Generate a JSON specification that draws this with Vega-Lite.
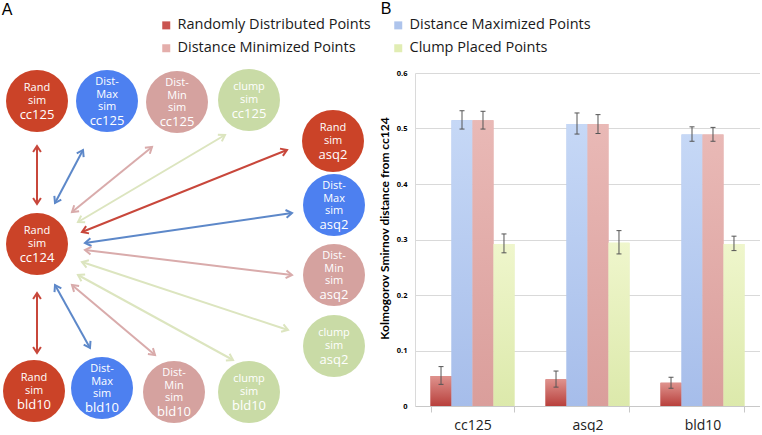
{
  "$schema": "https://vega.github.io/schema/vega-lite/v6.json",
  "padding": {"left": 0, "top": 1, "right": 0, "bottom": 0},
  "background": "white",
  "bounds": "flush",
  "spacing": 35,
  "config": {"view": {"stroke": null}, "font": "Open Sans"},
  "resolve": {"scale": {"color": "independent"}},
  "datasets": {
    "nodes": [
      {"kind": "Rand", "x": 37, "y": 101, "top": "Rand\nsim", "bottom": "cc125"},
      {"kind": "DistMax", "x": 107, "y": 101, "top": "Dist-\nMax\nsim", "bottom": "cc125"},
      {"kind": "DistMin", "x": 177, "y": 102, "top": "Dist-\nMin\nsim", "bottom": "cc125"},
      {"kind": "clump", "x": 249, "y": 100, "top": "clump\nsim", "bottom": "cc125"},
      {"kind": "Rand", "x": 333, "y": 141, "top": "Rand\nsim", "bottom": "asq2"},
      {"kind": "DistMax", "x": 334, "y": 205, "top": "Dist-\nMax\nsim", "bottom": "asq2"},
      {"kind": "DistMin", "x": 334, "y": 275, "top": "Dist-\nMin\nsim", "bottom": "asq2"},
      {"kind": "clump", "x": 334, "y": 346, "top": "clump\nsim", "bottom": "asq2"},
      {"kind": "Rand", "x": 37, "y": 244, "top": "Rand\nsim", "bottom": "cc124"},
      {"kind": "Rand", "x": 34, "y": 391, "top": "Rand\nsim", "bottom": "bld10"},
      {"kind": "DistMax", "x": 102, "y": 388, "top": "Dist-\nMax\nsim", "bottom": "bld10"},
      {"kind": "DistMin", "x": 174, "y": 392, "top": "Dist-\nMin\nsim", "bottom": "bld10"},
      {"kind": "clump", "x": 249, "y": 392, "top": "clump\nsim", "bottom": "bld10"}
    ],
    "edges": [
      {"kind": "Rand", "x": 37, "y": 146, "x2": 37, "y2": 204},
      {"kind": "DistMax", "x": 83, "y": 150, "x2": 55, "y2": 203},
      {"kind": "DistMin", "x": 152, "y": 147, "x2": 72, "y2": 212},
      {"kind": "clump", "x": 225, "y": 135, "x2": 78, "y2": 222},
      {"kind": "Rand", "x": 287, "y": 150, "x2": 82, "y2": 232},
      {"kind": "DistMax", "x": 292, "y": 213, "x2": 85, "y2": 243},
      {"kind": "DistMin", "x": 292, "y": 275, "x2": 85, "y2": 250},
      {"kind": "clump", "x": 288, "y": 330, "x2": 82, "y2": 262},
      {"kind": "Rand", "x": 37, "y": 353, "x2": 37, "y2": 293},
      {"kind": "DistMax", "x": 90, "y": 348, "x2": 55, "y2": 285},
      {"kind": "DistMin", "x": 155, "y": 355, "x2": 72, "y2": 285},
      {"kind": "clump", "x": 233, "y": 360, "x2": 78, "y2": 275}
    ],
    "letters": [
      {"label": "A", "x": 7, "y": 10},
      {"label": "B", "x": 386, "y": 9}
    ],
    "ks": [
      {"site": "cc125", "method": "Randomly Distributed Points", "value": 0.054, "lo": 0.039, "hi": 0.071},
      {"site": "cc125", "method": "Distance Maximized Points", "value": 0.515, "lo": 0.499, "hi": 0.532},
      {"site": "cc125", "method": "Distance Minimized Points", "value": 0.515, "lo": 0.499, "hi": 0.531},
      {"site": "cc125", "method": "Clump Placed Points", "value": 0.292, "lo": 0.276, "hi": 0.310},
      {"site": "asq2", "method": "Randomly Distributed Points", "value": 0.048, "lo": 0.034, "hi": 0.063},
      {"site": "asq2", "method": "Distance Maximized Points", "value": 0.508, "lo": 0.490, "hi": 0.528},
      {"site": "asq2", "method": "Distance Minimized Points", "value": 0.508, "lo": 0.491, "hi": 0.525},
      {"site": "asq2", "method": "Clump Placed Points", "value": 0.294, "lo": 0.274, "hi": 0.316},
      {"site": "bld10", "method": "Randomly Distributed Points", "value": 0.042, "lo": 0.032, "hi": 0.052},
      {"site": "bld10", "method": "Distance Maximized Points", "value": 0.489, "lo": 0.477, "hi": 0.503},
      {"site": "bld10", "method": "Distance Minimized Points", "value": 0.489, "lo": 0.477, "hi": 0.502},
      {"site": "bld10", "method": "Clump Placed Points", "value": 0.292, "lo": 0.280, "hi": 0.306}
    ]
  },
  "hconcat": [
    {
      "width": 380,
      "height": 333,
      "layer": [
        {
          "data": {"name": "edges"},
          "mark": {"type": "rule", "strokeWidth": 2},
          "encoding": {
            "x": {"field": "x", "type": "quantitative", "scale": {"domain": [0, 380], "nice": false, "zero": false}, "axis": null},
            "y": {"field": "y", "type": "quantitative", "scale": {"domain": [73, 406], "nice": false, "zero": false, "reverse": true}, "axis": null},
            "x2": {"field": "x2"},
            "y2": {"field": "y2"},
            "stroke": {"field": "kind", "type": "nominal", "scale": {"domain": ["Rand", "DistMax", "DistMin", "clump"], "range": ["#c8473b", "#5d88c9", "#d9abab", "#dce5bf"]}, "legend": null}
          }
        },
        {
          "data": {"name": "edges"},
          "transform": [{"calculate": "atan2(datum.x2 - datum.x, datum.y - datum.y2) * 180 / PI", "as": "ang"}],
          "mark": {"type": "point", "shape": "M-0.65,1L0,0L0.65,1", "size": 144, "filled": false, "strokeWidth": 2, "opacity": 1},
          "encoding": {
            "x": {"field": "x2", "type": "quantitative", "scale": {"domain": [0, 380], "nice": false, "zero": false}, "axis": null},
            "y": {"field": "y2", "type": "quantitative", "scale": {"domain": [73, 406], "nice": false, "zero": false, "reverse": true}, "axis": null},
            "angle": {"field": "ang", "type": "quantitative", "scale": null},
            "stroke": {"field": "kind", "type": "nominal", "scale": {"domain": ["Rand", "DistMax", "DistMin", "clump"], "range": ["#c8473b", "#5d88c9", "#d9abab", "#dce5bf"]}, "legend": null}
          }
        },
        {
          "data": {"name": "edges"},
          "transform": [{"calculate": "atan2(datum.x - datum.x2, datum.y2 - datum.y) * 180 / PI", "as": "ang"}],
          "mark": {"type": "point", "shape": "M-0.65,1L0,0L0.65,1", "size": 144, "filled": false, "strokeWidth": 2, "opacity": 1},
          "encoding": {
            "x": {"field": "x", "type": "quantitative", "scale": {"domain": [0, 380], "nice": false, "zero": false}, "axis": null},
            "y": {"field": "y", "type": "quantitative", "scale": {"domain": [73, 406], "nice": false, "zero": false, "reverse": true}, "axis": null},
            "angle": {"field": "ang", "type": "quantitative", "scale": null},
            "stroke": {"field": "kind", "type": "nominal", "scale": {"domain": ["Rand", "DistMax", "DistMin", "clump"], "range": ["#c8473b", "#5d88c9", "#d9abab", "#dce5bf"]}, "legend": null}
          }
        },
        {
          "data": {"name": "nodes"},
          "mark": {"type": "point", "shape": "circle", "size": 3844, "filled": true, "opacity": 1, "strokeWidth": 0},
          "encoding": {
            "x": {"field": "x", "type": "quantitative", "scale": {"domain": [0, 380], "nice": false, "zero": false}, "axis": null},
            "y": {"field": "y", "type": "quantitative", "scale": {"domain": [73, 406], "nice": false, "zero": false, "reverse": true}, "axis": null},
            "fill": {"field": "kind", "type": "nominal", "scale": {"domain": ["Rand", "DistMax", "DistMin", "clump"], "range": ["#cb4328", "#4d80f0", "#d5a29f", "#c9dba6"]}, "legend": null}
          }
        },
        {
          "data": {"name": "nodes"},
          "transform": [{"filter": "datum.kind == 'Rand' || datum.kind == 'clump'"}],
          "mark": {"type": "text", "color": "white", "fontSize": 11, "lineHeight": 13, "lineBreak": "\n", "baseline": "middle", "align": "center", "dy": -13, "font": "Open Sans"},
          "encoding": {
            "x": {"field": "x", "type": "quantitative", "scale": {"domain": [0, 380], "nice": false, "zero": false}, "axis": null},
            "y": {"field": "y", "type": "quantitative", "scale": {"domain": [73, 406], "nice": false, "zero": false, "reverse": true}, "axis": null},
            "text": {"field": "top"}
          }
        },
        {
          "data": {"name": "nodes"},
          "transform": [{"filter": "datum.kind == 'DistMax' || datum.kind == 'DistMin'"}],
          "mark": {"type": "text", "color": "white", "fontSize": 11, "lineHeight": 12.5, "lineBreak": "\n", "baseline": "middle", "align": "center", "dy": -19, "font": "Open Sans"},
          "encoding": {
            "x": {"field": "x", "type": "quantitative", "scale": {"domain": [0, 380], "nice": false, "zero": false}, "axis": null},
            "y": {"field": "y", "type": "quantitative", "scale": {"domain": [73, 406], "nice": false, "zero": false, "reverse": true}, "axis": null},
            "text": {"field": "top"}
          }
        },
        {
          "data": {"name": "nodes"},
          "transform": [{"filter": "datum.kind == 'Rand' || datum.kind == 'clump'"}],
          "mark": {"type": "text", "color": "white", "fontSize": 13, "baseline": "middle", "align": "center", "dy": 14, "font": "Open Sans"},
          "encoding": {
            "x": {"field": "x", "type": "quantitative", "scale": {"domain": [0, 380], "nice": false, "zero": false}, "axis": null},
            "y": {"field": "y", "type": "quantitative", "scale": {"domain": [73, 406], "nice": false, "zero": false, "reverse": true}, "axis": null},
            "text": {"field": "bottom"}
          }
        },
        {
          "data": {"name": "nodes"},
          "transform": [{"filter": "datum.kind == 'DistMax' || datum.kind == 'DistMin'"}],
          "mark": {"type": "text", "color": "white", "fontSize": 13, "baseline": "middle", "align": "center", "dy": 19.5, "font": "Open Sans"},
          "encoding": {
            "x": {"field": "x", "type": "quantitative", "scale": {"domain": [0, 380], "nice": false, "zero": false}, "axis": null},
            "y": {"field": "y", "type": "quantitative", "scale": {"domain": [73, 406], "nice": false, "zero": false, "reverse": true}, "axis": null},
            "text": {"field": "bottom"}
          }
        },
        {
          "data": {"name": "letters"},
          "mark": {"type": "text", "color": "black", "fontSize": 16, "baseline": "middle", "align": "center", "font": "Liberation Sans"},
          "encoding": {
            "x": {"field": "x", "type": "quantitative", "scale": {"domain": [0, 380], "nice": false, "zero": false}, "axis": null},
            "y": {"field": "y", "type": "quantitative", "scale": {"domain": [73, 406], "nice": false, "zero": false, "reverse": true}, "axis": null},
            "text": {"field": "label"}
          }
        }
      ]
    },
    {
      "width": 345,
      "height": 333,
      "data": {"name": "ks"},
      "encoding": {
        "x": {
          "field": "site", "type": "nominal", "sort": ["cc125", "asq2", "bld10"],
          "scale": {"paddingInner": 0.27, "paddingOuter": 0.135},
          "axis": {"title": null, "labelAngle": 0, "labelFontSize": 14, "labelColor": "#222", "labelFont": "Open Sans", "labelPadding": 6, "tickBand": "extent", "tickSize": 6, "tickColor": "#c8c8c8", "domainColor": "#c8c8c8", "grid": false}
        },
        "xOffset": {
          "field": "method", "type": "nominal",
          "sort": ["Randomly Distributed Points", "Distance Maximized Points", "Distance Minimized Points", "Clump Placed Points"],
          "scale": {"paddingInner": 0, "paddingOuter": 0}
        }
      },
      "layer": [
        {
          "mark": {"type": "bar"},
          "encoding": {
            "y": {
              "field": "value", "type": "quantitative",
              "scale": {"domain": [0, 0.6], "nice": false},
              "axis": {"title": "Kolmogorov Smirnov distance from cc124", "titleFont": "Lato", "titleFontSize": 12, "titleFontWeight": "bold", "titleColor": "#000", "titlePadding": 5, "titleY": 155, "values": [0, 0.1, 0.2, 0.3, 0.4, 0.5, 0.6], "format": "~g", "labelFontSize": 7.5, "labelFontWeight": "bold", "labelColor": "#000", "labelPadding": 8, "ticks": false, "domain": true, "domainColor": "#dadada", "gridColor": "#d9d9d9"}
            },
            "color": {
              "field": "method", "type": "nominal",
              "scale": {"domain": ["Randomly Distributed Points", "Distance Minimized Points", "Distance Maximized Points", "Clump Placed Points"], "range": ["#c95450", "#e4aeab", "#aec4ec", "#e1edb3"]},
              "legend": {"orient": "none", "legendX": -256, "legendY": -55, "columns": 2, "title": null, "symbolType": "square", "symbolSize": 64, "symbolStrokeWidth": 0, "labelFontSize": 14.5, "labelFont": "Open Sans", "labelColor": "#1a1a1a", "columnPadding": 20, "rowPadding": 8, "labelOffset": 4, "labelLimit": 300, "padding": 0}
            }
          }
        },
        {
          "transform": [{"filter": "datum.method == 'Randomly Distributed Points'"}],
          "mark": {"type": "bar", "color": {"gradient": "linear", "x1": 0, "y1": 0, "x2": 0, "y2": 1, "stops": [{"offset": 0, "color": "#df938e"}, {"offset": 1, "color": "#b8403c"}]}},
          "encoding": {"y": {"field": "value", "type": "quantitative", "title": "Kolmogorov Smirnov distance from cc124"}}
        },
        {
          "transform": [{"filter": "datum.method == 'Distance Maximized Points'"}],
          "mark": {"type": "bar", "color": {"gradient": "linear", "x1": 0, "y1": 0, "x2": 0, "y2": 1, "stops": [{"offset": 0, "color": "#c6d8f6"}, {"offset": 1, "color": "#a6bdea"}]}},
          "encoding": {"y": {"field": "value", "type": "quantitative", "title": "Kolmogorov Smirnov distance from cc124"}}
        },
        {
          "transform": [{"filter": "datum.method == 'Distance Minimized Points'"}],
          "mark": {"type": "bar", "color": {"gradient": "linear", "x1": 0, "y1": 0, "x2": 0, "y2": 1, "stops": [{"offset": 0, "color": "#e9b9b6"}, {"offset": 1, "color": "#da9e9b"}]}},
          "encoding": {"y": {"field": "value", "type": "quantitative", "title": "Kolmogorov Smirnov distance from cc124"}}
        },
        {
          "transform": [{"filter": "datum.method == 'Clump Placed Points'"}],
          "mark": {"type": "bar", "color": {"gradient": "linear", "x1": 0, "y1": 0, "x2": 0, "y2": 1, "stops": [{"offset": 0, "color": "#eff6cc"}, {"offset": 1, "color": "#dce9ab"}]}},
          "encoding": {"y": {"field": "value", "type": "quantitative", "title": "Kolmogorov Smirnov distance from cc124"}}
        },
        {
          "mark": {"type": "rule", "color": "#555", "strokeWidth": 1},
          "encoding": {
            "y": {"field": "lo", "type": "quantitative", "title": "Kolmogorov Smirnov distance from cc124"},
            "y2": {"field": "hi"}
          }
        },
        {
          "mark": {"type": "tick", "orient": "horizontal", "size": 5, "thickness": 1, "color": "#555", "opacity": 1},
          "encoding": {
            "y": {"field": "hi", "type": "quantitative", "title": "Kolmogorov Smirnov distance from cc124"}
          }
        },
        {
          "mark": {"type": "tick", "orient": "horizontal", "size": 5, "thickness": 1, "color": "#555", "opacity": 1},
          "encoding": {
            "y": {"field": "lo", "type": "quantitative", "title": "Kolmogorov Smirnov distance from cc124"}
          }
        }
      ]
    }
  ]
}
